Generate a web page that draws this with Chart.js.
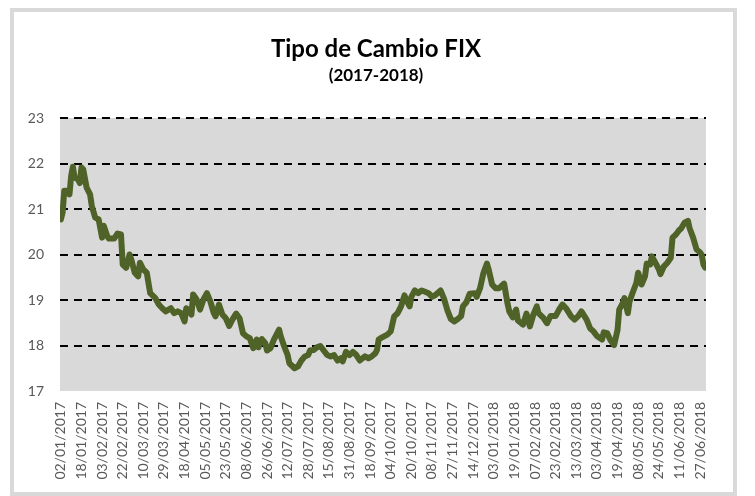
<!DOCTYPE html>
<html>
<head>
<meta charset="utf-8">
<script src="https://cdn.jsdelivr.net/npm/chart.js@4"></script>
<style>
html,body{margin:0;padding:0;background:#fff;}
#wrap{width:755px;height:496px;}
</style>
</head>
<body>
<div id="wrap"><canvas id="c" width="755" height="496"></canvas></div>
<script>
// Trading-day number (0 = 02/01/2017) at which each reading was taken
const tradingDay = [0,1,2,3,5,6,7,8,10,11,12,13,15,17,18,20,22,24,25,27,28,31,33,35,36,38,40,41,43,45,46,48,50,52,55,57,59,61,64,66,68,70,72,73,75,76,77,79,81,83,85,87,89,90,92,94,96,98,100,102,104,106,108,110,112,114,115,117,119,120,122,124,127,128,130,132,133,136,138,140,142,144,145,147,149,151,153,155,157,159,161,163,164,166,168,170,172,174,177,179,181,183,184,185,
187,190,192,194,196,198,200,201,203,204,206,208,210,212,214,216,218,221,223,225,227,229,231,233,234,236,238,241,242,244,246,248,249,251,253,255,258,260,261,263,265,266,269,271,273,275,277,278,281,283,285,288,290,292,294,297,299,301,303,306,308,310,312,315,316,318,320,322,324,325,327,328,330,331,333,335,336,338,340,341,343,344,346,348,349,351,353,355,356,358,360,361,363,365,366,368,370,372,373,374,375];
// Tipo de cambio FIX (MXN por USD)
const fixRate = [20.77,20.92,21.40,21.40,21.32,21.73,21.93,21.69,21.65,21.57,21.91,21.87,21.47,21.32,21.07,20.81,20.77,20.37,20.63,20.40,20.35,20.35,20.46,20.44,19.78,19.71,20.00,19.89,19.60,19.52,19.82,19.67,19.60,19.15,19.04,18.90,18.82,18.75,18.82,18.71,18.75,18.71,18.53,18.82,18.75,18.68,19.12,19.01,18.79,19.01,19.15,18.97,18.71,18.64,18.90,18.68,18.60,18.43,18.58,18.70,18.60,18.27,18.20,18.16,17.94,18.13,17.96,18.14,18.05,17.89,17.94,18.13,18.35,18.20,17.98,17.79,17.61,17.50,17.54,17.67,17.76,17.79,17.89,17.90,17.96,17.99,17.89,17.79,17.76,17.79,17.67,17.72,17.65,17.86,17.79,17.86,17.79,17.67,17.76,17.72,17.76,17.83,17.90,18.13,
18.18,18.24,18.31,18.64,18.71,18.86,19.10,19.01,18.86,19.07,19.21,19.15,19.21,19.18,19.15,19.07,19.11,19.21,19.03,18.77,18.58,18.53,18.58,18.65,18.86,18.95,19.14,19.15,19.07,19.26,19.60,19.80,19.67,19.34,19.26,19.26,19.36,18.92,18.75,18.62,18.79,18.55,18.46,18.70,18.42,18.68,18.86,18.71,18.60,18.49,18.65,18.65,18.79,18.90,18.82,18.64,18.57,18.64,18.75,18.57,18.38,18.31,18.21,18.13,18.29,18.27,18.11,18.01,18.34,18.79,18.93,19.04,18.71,18.97,19.18,19.38,19.60,19.34,19.52,19.80,19.78,19.96,19.82,19.68,19.57,19.74,19.82,19.93,20.37,20.44,20.54,20.57,20.70,20.74,20.57,20.37,20.11,20.05,19.99,19.78,19.71];
// Category labels shown on the axis and the trading day they belong to
const tickLabels = ["02/01/2017","18/01/2017","03/02/2017","22/02/2017","10/03/2017","29/03/2017","18/04/2017","05/05/2017","23/05/2017","08/06/2017","26/06/2017","12/07/2017","28/07/2017","15/08/2017","31/08/2017","18/09/2017","04/10/2017","20/10/2017","08/11/2017","27/11/2017","14/12/2017","03/01/2018","19/01/2018","07/02/2018","23/02/2018","13/03/2018","03/04/2018","19/04/2018","08/05/2018","24/05/2018","11/06/2018","27/06/2018"];
const tickDays = [0,12,24,36,48,60,72,84,96,108,120,132,144,156,168,180,192,204,216,228,240,252,264,276,288,300,312,324,336,348,360,372];
const yTicks = [17,18,19,20,21,22,23];

const points = tradingDay.map((d, i) => ({x: d, y: fixRate[i]}));

const frame = {
  id: 'frame',
  beforeDraw(chart) {
    const {ctx, chartArea} = chart;
    ctx.save();
    ctx.fillStyle = '#d9d9d9';
    ctx.fillRect(chartArea.left, chartArea.top, chartArea.right - chartArea.left, chartArea.bottom - chartArea.top);
    ctx.strokeStyle = '#d9d9d9';
    ctx.lineWidth = 4;
    ctx.strokeRect(12, 10, 723, 484);
    ctx.restore();
  }
};

new Chart(document.getElementById('c'), {
  type: 'line',
  data: {
    datasets: [{
      data: points,
      borderColor: '#4f6228',
      borderWidth: 6,
      pointRadius: 0,
      tension: 0,
      borderJoinStyle: 'round',
      borderCapStyle: 'round',
      fill: false
    }]
  },
  options: {
    responsive: false,
    animation: false,
    devicePixelRatio: 1,
    layout: {padding: {left: 0, right: 3, top: 0, bottom: 5}},
    plugins: {
      legend: {display: false},
      tooltip: {enabled: false},
      title: {
        display: true, text: 'Tipo de Cambio FIX', color: '#000',
        font: {family: 'Lato', size: 24, weight: 'bold', lineHeight: 1.2},
        padding: {top: 34.6, bottom: 2.4}
      },
      subtitle: {
        display: true, text: '(2017-2018)', color: '#000',
        font: {family: 'Lato', size: 17, weight: 'bold', lineHeight: 1.2},
        padding: {top: 0, bottom: 31.8}
      }
    },
    scales: {
      x: {
        type: 'linear', min: -0.5, max: 375.5,
        afterBuildTicks: s => { s.ticks = tickDays.map(v => ({value: v})); },
        afterFit: s => { s.height = 100; },
        ticks: {
          autoSkip: false, minRotation: 90, maxRotation: 90, padding: 11,
          color: '#595959', font: {family: 'Lato', size: 14},
          callback: v => tickLabels[tickDays.indexOf(v)]
        },
        grid: {display: false, drawTicks: false},
        border: {display: false}
      },
      y: {
        min: 17, max: 23,
        afterBuildTicks: s => { s.ticks = yTicks.map(v => ({value: v})); },
        afterFit: s => { s.width = 60; },
        ticks: {padding: 16, color: '#595959', font: {family: 'Lato', size: 14}},
        grid: {
          drawTicks: false, lineWidth: 2, borderDash: [8, 6],
          color: c => (c.tick && c.tick.value === 17) ? 'rgba(0,0,0,0)' : '#000'
        },
        border: {display: false, dash: [8, 6]}
      },
      yRight: {
        position: 'right', min: 17, max: 23,
        afterFit: s => { s.width = 46; },
        ticks: {display: false},
        grid: {display: false, drawTicks: false},
        border: {display: false}
      }
    }
  },
  plugins: [frame]
});
</script>
</body>
</html>
